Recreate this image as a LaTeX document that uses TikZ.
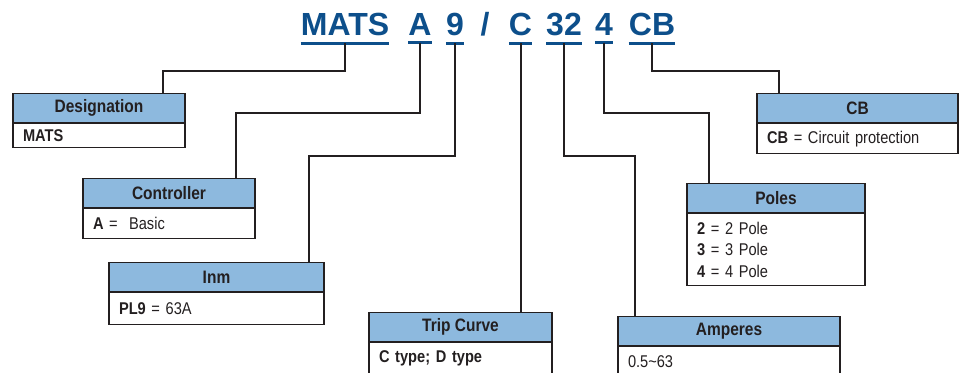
\documentclass[tikz,border=0pt]{standalone}
\usepackage{fontspec}
\setmainfont{Liberation Sans}
\newfontfamily\condfont[FakeStretch=0.86]{Liberation Sans}
\usetikzlibrary{positioning}
\definecolor{codeblue}{HTML}{0D4F8B}
\definecolor{headblue}{HTML}{8DB9DE}
\definecolor{ink}{HTML}{231F20}
\tikzset{
	tok/.style={text=codeblue, font=\fontsize{32}{32}\selectfont\bfseries, inner xsep=0pt, inner ysep=7.5pt, anchor=base},
	uline/.style={draw=codeblue, line width=3pt},
	wire/.style={draw=ink, line width=2pt},
	head/.style={draw=ink, line width=1.2pt, fill=headblue, anchor=north, inner sep=0pt, minimum height=29pt, font=\condfont\fontsize{18}{18}\selectfont\bfseries, text=ink},
	body/.style={draw=ink, line width=1.2pt, below=0pt of #1, inner xsep=10pt, inner ysep=0pt, align=left, font=\condfont\fontsize{17}{21.5}\selectfont, text=ink},
}

\begin{document}
\begin{tikzpicture}[x=1pt, y=-1pt]
			%%%%% START %%%%%
			\clip (0, 0) rectangle (960, 372);
			
			% ordering code
			\node[tok] (mats) at (345, 35) {MATS};
			\node[tok] (ctl) at (420, 35) {A};
			\node[tok] (nine) at (455, 35) {9};
			\node[tok] (slash) at (485, 35) {/};
			\node[tok] (curve) at (520.5, 35) {C};
			\node[tok] (amp) at (564, 35) {32};
			\node[tok] (pol) at (604, 35) {4};
			\node[tok] (prot) at (652, 35) {CB};
			\foreach \t in {mats, ctl, nine, curve, amp, pol, prot}
				\draw[uline] (\t.south west) -- (\t.south east);
			
			% boxes
			\node[head, minimum width=172pt] (desig) at (99, 93) {Designation};
			\node[body=desig, text width=152pt, minimum height=24pt] (desigb) {\textbf{MATS}};
			
			\node[head, minimum width=172pt] (ctrl) at (169, 178) {Controller};
			\node[body=ctrl, text width=152pt, minimum height=30pt] (ctrlb) {\textbf{A} =\ \ Basic};
			
			\node[head, minimum width=215pt] (inm) at (216.5, 262) {Inm};
			\node[body=inm, text width=195pt, minimum height=32pt] (inmb) {\textbf{PL9} = 63A};
			
			\node[head, minimum width=183pt] (trip) at (460.5, 312) {Trip Curve};
			\node[body=trip, text width=163pt, minimum height=32pt] (tripb) {\textbf{C type; D type}};
			
			\node[head, minimum width=222pt] (amps) at (729, 316) {Amperes};
			\node[body=amps, text width=202pt, minimum height=30pt] (ampsb) {0.5\textasciitilde63};
			
			\node[head, minimum width=178pt] (poles) at (776, 183) {Poles};
			\node[body=poles, text width=158pt, minimum height=72pt] (polesb) {\textbf{2} = 2 Pole\\\textbf{3} = 3 Pole\\\textbf{4} = 4 Pole\\[-4pt]};
			
			\node[head, minimum width=201pt] (cbox) at (857.5, 93) {CB};
			\node[body=cbox, text width=181pt, minimum height=30pt] (cboxb) {\textbf{CB} = Circuit protection};
			
			% leaders
			\draw[wire] (mats.south) -- ++(0, 27.5) -| ([xshift=64pt]desig.north);
			\draw[wire] (ctl.south) -- ++(0, 70.5) -| ([xshift=67pt]ctrl.north);
			\draw[wire] (nine.south) -- ++(0, 112.5) -| ([xshift=92.5pt]inm.north);
			\draw[wire] (curve.south) -- (curve.south |- trip.north);
			\draw[wire] (amp.south) -- ++(0, 112.5) -| ([xshift=-94pt]amps.north);
			\draw[wire] (pol.south) -- ++(0, 70.5) -| ([xshift=-67pt]poles.north);
			\draw[wire] (prot.south) -- ++(0, 27.5) -| ([xshift=-78.5pt]cbox.north);
			
			%%%%% END %%%%%
\end{tikzpicture}
\end{document}
